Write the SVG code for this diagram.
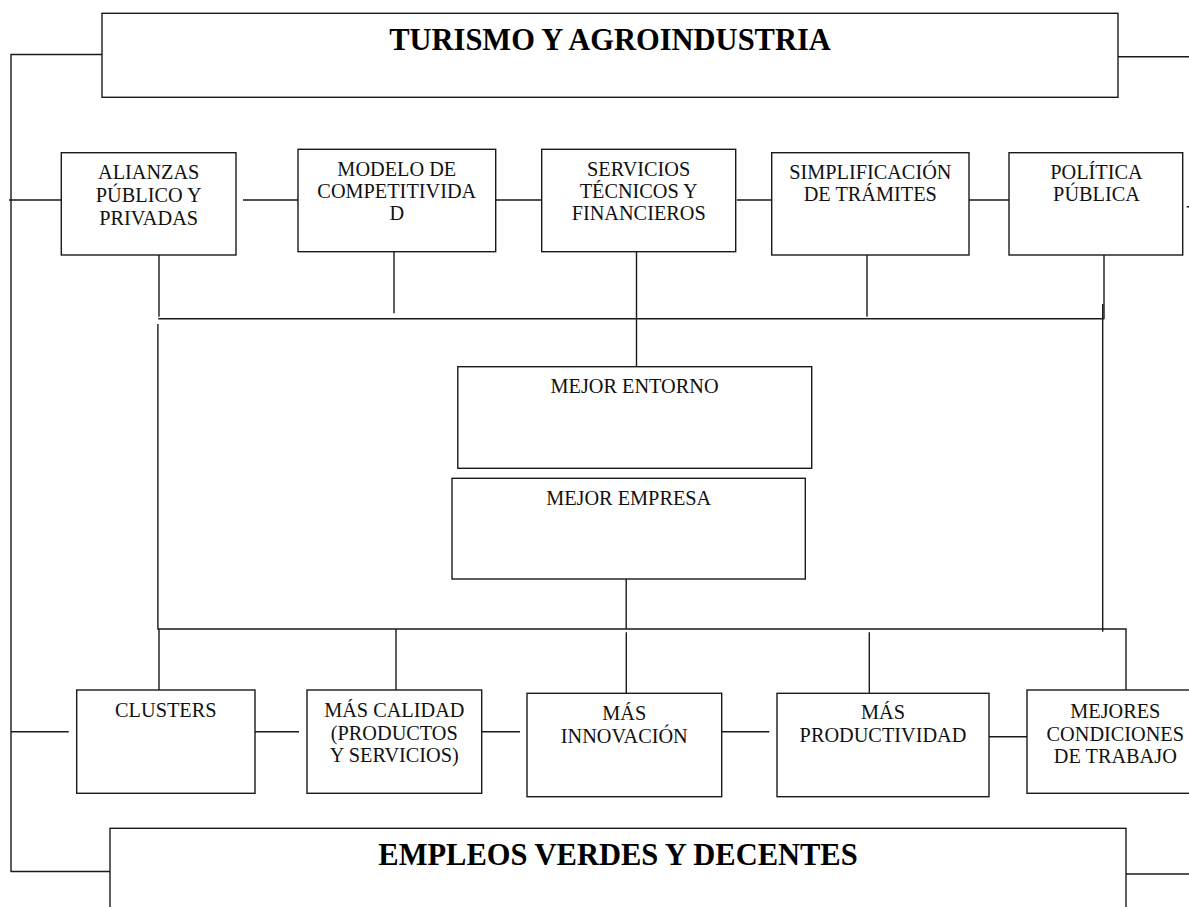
<svg xmlns="http://www.w3.org/2000/svg" width="1189" height="907" viewBox="0 0 1189 907">
<style>
.box{fill:#fff;stroke:#1a1a1a;stroke-width:1.4}
.ln{fill:none;stroke:#1a1a1a;stroke-width:1.4}
.t{font-family:"Liberation Serif","Times New Roman",serif;font-size:20.3px;fill:#111;text-anchor:middle}
.title{font-family:"Liberation Serif","Times New Roman",serif;font-size:30.5px;font-weight:bold;fill:#000;text-anchor:middle}
</style>
<rect width="1189" height="907" fill="#fff"/>
<g id="connectors">
<path class="ln" d="M102,54.5 H11 V871.5 H110"/>
<path class="ln" d="M1118,56.7 H1189"/>
<path class="ln" d="M1126,874 H1189"/>
<path class="ln" d="M9,200 H68.7 M243,200 H299 M491,200 H546.7 M736.7,200 H782.7 M962.3,200 H1014.3 M1186.7,206.7 H1189"/>
<path class="ln" d="M159,255 V316.7 M394,251.7 V313.3 M636.5,251.7 V366.7 M867,255 V316.7 M1104,255 V318.7"/>
<path class="ln" d="M158.2,318.7 H1104.3"/>
<path class="ln" d="M1102.7,304 V631.7"/>
<path class="ln" d="M157.9,324 V629 H1126 V690"/>
<path class="ln" d="M626.2,579 V629"/>
<path class="ln" d="M159,629 V690 M396,629 V690 M626.3,632.3 V693.3 M869.3,632.3 V692.7"/>
<path class="ln" d="M11,731.7 H68.7 M247,731.7 H299 M474,731.7 H520 M714,731.7 H769.3 M989,736.7 H1028"/>
</g>
<g id="turismo">
<rect class="box" x="102" y="13.3" width="1016" height="84"/>
<text class="title" x="610" y="50">TURISMO Y AGROINDUSTRIA</text>
</g>
<g id="alianzas">
<rect class="box" x="61.3" y="152.7" width="174.7" height="102.3"/>
<text class="t" x="148.7" y="179.3">ALIANZAS</text>
<text class="t" x="148.7" y="202.3">PÚBLICO Y</text>
<text class="t" x="148.7" y="224.5">PRIVADAS</text>
</g>
<g id="modelo">
<rect class="box" x="298" y="149.3" width="197.7" height="102.4"/>
<text class="t" x="396.8" y="176.3">MODELO DE</text>
<text class="t" x="396.8" y="198.3">COMPETITIVIDA</text>
<text class="t" x="396.8" y="220.3">D</text>
</g>
<g id="servicios">
<rect class="box" x="541.7" y="149.3" width="194" height="102.4"/>
<text class="t" x="638.7" y="176.3">SERVICIOS</text>
<text class="t" x="638.7" y="198.3">TÉCNICOS Y</text>
<text class="t" x="638.7" y="220.3">FINANCIEROS</text>
</g>
<g id="simplificacion">
<rect class="box" x="771.7" y="152.7" width="197.3" height="102.3"/>
<text class="t" x="870.3" y="179.3">SIMPLIFICACIÓN</text>
<text class="t" x="870.3" y="201">DE TRÁMITES</text>
</g>
<g id="politica">
<rect class="box" x="1009" y="152.7" width="173.7" height="102.3"/>
<text class="t" x="1096.5" y="179.3">POLÍTICA</text>
<text class="t" x="1096.5" y="201">PÚBLICA</text>
</g>
<g id="mejor-entorno">
<rect class="box" x="457.8" y="366.7" width="353.9" height="101.6"/>
<text class="t" x="634.5" y="392.7">MEJOR ENTORNO</text>
</g>
<g id="mejor-empresa">
<rect class="box" x="452" y="478.3" width="353.3" height="100.7"/>
<text class="t" x="628.7" y="505">MEJOR EMPRESA</text>
</g>
<g id="clusters">
<rect class="box" x="76.7" y="690" width="178.3" height="103.3"/>
<text class="t" x="165.8" y="717.3">CLUSTERS</text>
</g>
<g id="calidad">
<rect class="box" x="307" y="690" width="174.7" height="103.3"/>
<text class="t" x="394.3" y="717.3">MÁS CALIDAD</text>
<text class="t" x="394.3" y="740">(PRODUCTOS</text>
<text class="t" x="394.3" y="761.7">Y SERVICIOS)</text>
</g>
<g id="innovacion">
<rect class="box" x="527" y="693.3" width="194.7" height="103.4"/>
<text class="t" x="624.3" y="720">MÁS</text>
<text class="t" x="624.3" y="743">INNOVACIÓN</text>
</g>
<g id="productividad">
<rect class="box" x="777" y="693.3" width="212" height="103.4"/>
<text class="t" x="883" y="719">MÁS</text>
<text class="t" x="883" y="741.7">PRODUCTIVIDAD</text>
</g>
<g id="condiciones">
<rect class="box" x="1027" y="690" width="176" height="103.3"/>
<text class="t" x="1115.3" y="718.3">MEJORES</text>
<text class="t" x="1115.3" y="741">CONDICIONES</text>
<text class="t" x="1115.3" y="762.7">DE TRABAJO</text>
</g>
<g id="empleos">
<rect class="box" x="110" y="828.3" width="1016" height="100"/>
<text class="title" x="618" y="865">EMPLEOS VERDES Y DECENTES</text>
</g>
</svg>
